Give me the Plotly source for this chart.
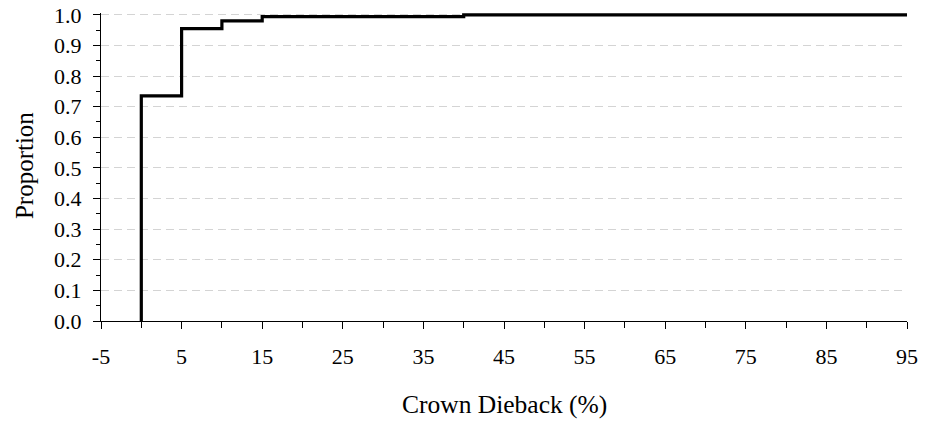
import plotly.graph_objects as go

# Cumulative proportion of trees by crown dieback class
dieback_pct = [0, 0, 5, 5, 10, 10, 15, 15, 40, 40, 95]
proportion = [0.0, 0.735, 0.735, 0.955, 0.955, 0.98, 0.98, 0.994, 0.994, 1.0, 1.0]

x_ticks = [-5, 5, 15, 25, 35, 45, 55, 65, 75, 85, 95]
x_minor = [0, 10, 20, 30, 40, 50, 60, 70, 80, 90]
y_ticks = [0.0, 0.1, 0.2, 0.3, 0.4, 0.5, 0.6, 0.7, 0.8, 0.9, 1.0]

FONT = "Liberation Serif, Times New Roman, serif"

fig = go.Figure()
fig.add_trace(go.Scatter(
    x=dieback_pct, y=proportion, mode="lines",
    line=dict(color="black", width=3.2),
    showlegend=False, hoverinfo="skip",
))

fig.update_layout(
    width=925, height=425,
    margin=dict(l=101, r=18, t=13, b=104),
    paper_bgcolor="white", plot_bgcolor="white",
    font=dict(family=FONT, size=22, color="black"),
    xaxis=dict(
        range=[-5, 95], tickmode="array", tickvals=x_ticks,
        ticktext=[str(v) for v in x_ticks],
        ticks="outside", ticklen=7, tickwidth=1, tickcolor="black",
        ticklabelstandoff=9,
        showline=True, linecolor="black", linewidth=1,
        showgrid=False, zeroline=False, automargin=False,
        minor=dict(tickvals=x_minor, ticks="outside", ticklen=6,
                   tickcolor="black", showgrid=False),
        tickfont=dict(size=22),
    ),
    yaxis=dict(
        range=[0, 1.006], tickmode="array", tickvals=y_ticks,
        ticktext=[f"{v:.1f}" for v in y_ticks],
        ticks="outside", ticklen=7, tickwidth=1, tickcolor="black",
        ticklabelstandoff=7,
        showline=True, linecolor="black", linewidth=1,
        showgrid=True, gridcolor="#d4d4d4", gridwidth=1, griddash="8px,5px",
        zeroline=False, automargin=False,
        minor=dict(dtick=0.05, tick0=0, ticks="outside", ticklen=4,
                   tickcolor="black", showgrid=False),
        tickfont=dict(size=22),
    ),
    annotations=[
        dict(text="Crown Dieback (%)", xref="paper", yref="paper",
             x=0.5, y=-0.272, xanchor="center", yanchor="middle",
             showarrow=False, font=dict(size=25.5)),
        dict(text="Proportion", xref="paper", yref="paper",
             x=-0.0955, y=0.503, xanchor="center", yanchor="middle",
             textangle=-90, showarrow=False, font=dict(size=25)),
    ],
)

fig.write_html("out.html")
